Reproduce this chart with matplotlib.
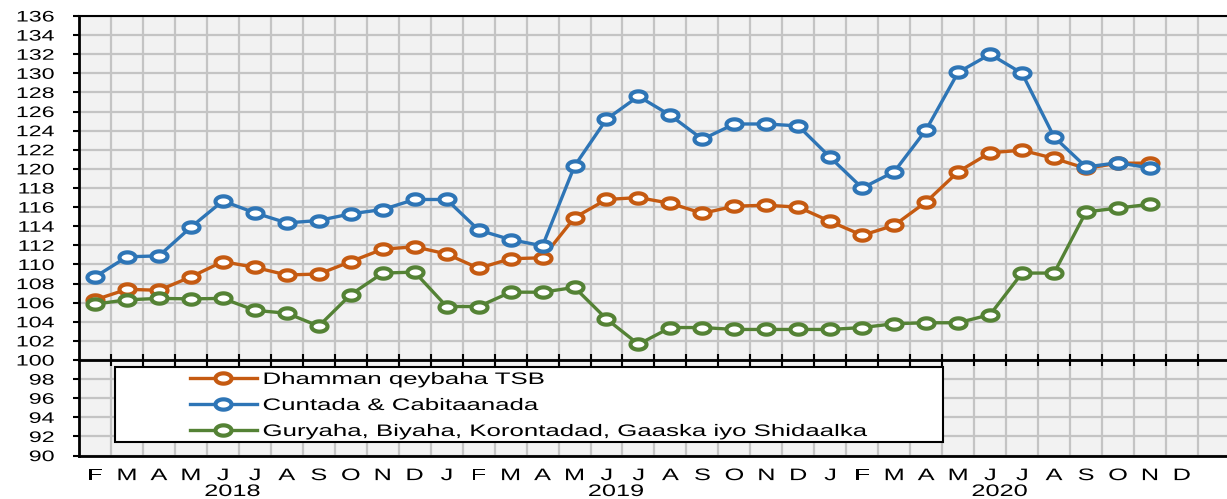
import numpy as np
import matplotlib
matplotlib.use("Agg")
import matplotlib.pyplot as plt
from matplotlib.path import Path
from matplotlib.patheffects import AbstractPathEffect
from matplotlib.transforms import Affine2D, blended_transform_factory
from matplotlib.patches import Rectangle

plt.rcParams['font.family'] = ['Liberation Sans', 'DejaVu Sans']

# ---------------- data ----------------
month_labels = ["F", "M", "A", "M", "J", "J", "A", "S", "O", "N", "D",
                "J", "F", "M", "A", "M", "J", "J", "A", "S", "O", "N", "D",
                "J", "F", "M", "A", "M", "J", "J", "A", "S", "O", "N", "D"]
years = ["2018", "2019", "2020"]

series_names = ["Dhamman qeybaha TSB",
                "Cuntada & Cabitaanada",
                "Guryaha, Biyaha, Korontadad, Gaaska iyo Shidaalka"]

total_tsb = [106.3, 107.4, 107.3, 108.7, 110.3, 109.7, 108.9, 109.0, 110.3, 111.6, 111.85,
             111.1, 109.6, 110.6, 110.7, 114.9, 116.8, 117.0, 116.4, 115.35, 116.1, 116.2, 116.0,
             114.5, 113.05, 114.1, 116.55, 119.7, 121.7, 121.95, 121.1, 120.05, 120.6, 120.6]

food = [108.7, 110.8, 110.9, 113.9, 116.65, 115.4, 114.35, 114.6, 115.3, 115.75, 116.8,
        116.8, 113.6, 112.6, 111.95, 120.3, 125.2, 127.6, 125.6, 123.1, 124.7, 124.7, 124.5,
        121.2, 118.0, 119.7, 124.1, 130.1, 132.0, 130.0, 123.35, 120.2, 120.65, 120.1]

housing = [105.85, 106.3, 106.45, 106.4, 106.45, 105.2, 104.9, 103.55, 106.85, 109.1, 109.2,
           105.6, 105.6, 107.1, 107.1, 107.6, 104.3, 101.65, 103.4, 103.4, 103.2, 103.2, 103.2,
           103.2, 103.4, 103.8, 103.9, 103.9, 104.75, 109.1, 109.1, 115.5, 115.9, 116.3]

colors = ["#C55A11", "#2E75B6", "#548235"]


# ---------------- helpers ----------------
class Stretch(AbstractPathEffect):
    """Draw text glyphs horizontally stretched (the reference is a stretched image)."""

    def __init__(self, sx, anchor="left"):
        super().__init__()
        self.sx = sx
        self.anchor = anchor

    def draw_path(self, renderer, gc, tpath, affine, rgbFace=None):
        v = tpath.vertices
        if len(v) == 0:
            return
        codes = tpath.codes
        if codes is None:
            vv = v
        else:
            vv = v[(codes != Path.CLOSEPOLY) & (codes != Path.STOP)]
        if len(vv) == 0:
            vv = v
        if self.anchor == "left":
            px = 0.0
        elif self.anchor == "right":
            px = vv[:, 0].max()
        else:
            px = 0.5 * (vv[:, 0].min() + vv[:, 0].max())
        pre = Affine2D().translate(-px, 0).scale(self.sx, 1.0).translate(px, 0)
        renderer.draw_path(gc, tpath, pre + affine, rgbFace)


SX = 1.52
theta = np.linspace(0, 2 * np.pi, 73)
ellipse = Path(np.column_stack([1.55 * np.cos(theta), np.sin(theta)]), closed=True)

# ---------------- figure ----------------
W, H = 1227, 499
fig = plt.figure(figsize=(W / 100, H / 100), dpi=100)
L, R, T, B = 79, 1227, 16, 455.6
ax = fig.add_axes([L / W, 1 - B / H, (R - L) / W, (B - T) / H])
ax.set_facecolor("#F2F2F2")

n = len(month_labels)
ymin, ymax = 90, 136
ax.set_ylim(ymin, ymax)
ax.set_xlim(-0.5, n - 0.5 + 0.91)

x = np.arange(len(total_tsb))
for i, (vals, name) in enumerate(zip([total_tsb, food, housing], series_names)):
    ax.plot(x, vals, color=colors[i], lw=2.4, marker=ellipse, ms=11.5,
            mfc="white", mec=colors[i], mew=3.0, label=name, zorder=3 + i,
            solid_joinstyle="round")

# grid
ax.set_axisbelow(True)
ax.set_xticks(np.arange(n))
ax.set_xticklabels(month_labels)
ax.set_xticks(np.arange(n + 1) - 0.5, minor=True)
ax.set_yticks(np.arange(ymin, ymax + 1, 2))
ax.grid(which="minor", axis="x", color="#C4C4C4", lw=1.6)
ax.grid(which="major", axis="y", color="#C4C4C4", lw=1.6)
ax.grid(which="major", axis="x", visible=False)

ax.tick_params(axis="x", which="both", length=0, pad=9, labelsize=12)
ax.tick_params(axis="y", which="major", direction="out", length=4.3, width=1.5,
               pad=13.5, labelsize=11)

for lbl in ax.get_xticklabels():
    lbl.set_path_effects([Stretch(SX, "center")])
for lbl in ax.get_yticklabels():
    lbl.set_path_effects([Stretch(SX, "right")])

ax.spines["right"].set_visible(False)
ax.spines["top"].set_linewidth(1.5)
ax.spines["left"].set_linewidth(2)
ax.spines["bottom"].set_linewidth(2)

# horizontal axis crossing at 100 with tick marks between categories
sec = ax.secondary_xaxis((100 - ymin) / (ymax - ymin))
sec.set_xticks(np.arange(1, n + 1) - 0.5)
sec.tick_params(direction="inout", length=8, width=1.5, labelbottom=False,
                labeltop=False, color="black")
for s in ("top", "bottom"):
    sec.spines[s].set_linewidth(2)
    sec.spines[s].set_color("black")
sec.set_zorder(2)

# year labels
trans = blended_transform_factory(ax.transData, ax.transAxes)
for k, yr in enumerate(years):
    centre = 12 * k + 4.5 - 0.2
    ax.text(centre, (B - 484) / (B - T), yr, transform=trans, ha="center",
            va="top", fontsize=12, path_effects=[Stretch(SX, "center")])

# legend box + legend
def ax_x(px):
    return (px - L) / (R - L)

def ax_y(py):
    return (B - py) / (B - T)

box = Rectangle((ax_x(115), ax_y(442)), ax_x(943) - ax_x(115), ax_y(367) - ax_y(442),
                transform=ax.transAxes, fc="white", ec="black", lw=1.5, zorder=8)
ax.add_patch(box)
leg = ax.legend(loc="upper left", bbox_to_anchor=(ax_x(190), ax_y(372)),
                frameon=False, borderpad=0, borderaxespad=0, handlelength=4.0,
                handletextpad=0.35, labelspacing=0.66, fontsize=12)
leg.set_zorder(9)
for t in leg.get_texts():
    t.set_path_effects([Stretch(1.55, "left")])

fig.savefig("out.png", dpi=100)
